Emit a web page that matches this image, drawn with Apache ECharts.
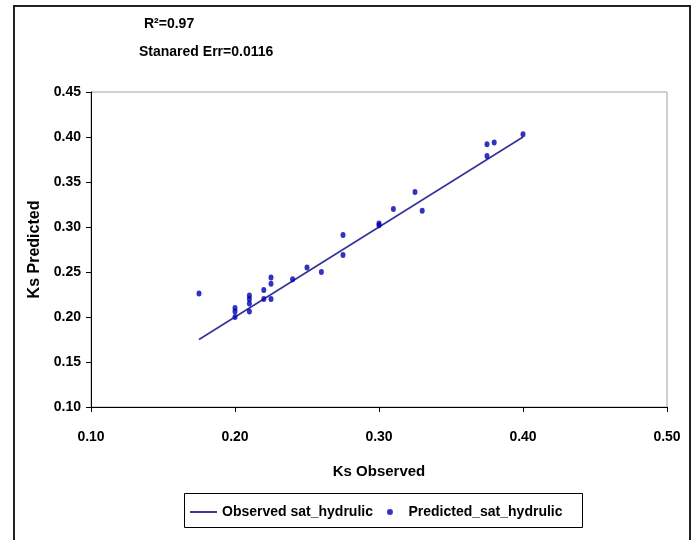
<!DOCTYPE html>
<html>
<head>
<meta charset="utf-8">
<title>Ks Observed vs Predicted</title>
<script src="https://cdn.jsdelivr.net/npm/echarts@6/dist/echarts.min.js"></script>
<style>
  html, body { margin: 0; padding: 0; background: #fff; }
  #chart { width: 693px; height: 540px; }
</style>
</head>
<body>
<div id="chart"></div>
<script>
// observed Ks (x) and predicted Ks (y)
const observed = [0.175, 0.20, 0.20, 0.20, 0.21, 0.21, 0.21, 0.21, 0.22, 0.22, 0.225, 0.225, 0.225,
  0.24, 0.25, 0.26, 0.275, 0.275, 0.30, 0.30, 0.31, 0.325, 0.33, 0.375, 0.375, 0.38, 0.40];
const predicted = [0.226, 0.210, 0.206, 0.200, 0.224, 0.220, 0.215, 0.206, 0.230, 0.220, 0.244, 0.237, 0.220,
  0.242, 0.255, 0.250, 0.291, 0.269, 0.304, 0.302, 0.320, 0.339, 0.318, 0.392, 0.379, 0.394, 0.403];
const xTicks = [0.10, 0.20, 0.30, 0.40, 0.50];
const yTicks = [0.10, 0.15, 0.20, 0.25, 0.30, 0.35, 0.40, 0.45];
const statLines = ['R\u00b2=0.97', 'Stanared Err=0.0116'];

const pointData = observed.map((v, i) => [v, predicted[i]]);
// 1:1 line through the observed values
const lineData = observed.slice().sort((a, b) => a - b).map(v => [v, v]);

const font = 'Liberation Sans, Arial, sans-serif';
const chart = echarts.init(document.getElementById('chart'));

chart.setOption({
  animation: false,
  backgroundColor: '#fff',
  textStyle: { fontFamily: font },
  title: [
    { text: statLines[0], left: 139, top: 12, textStyle: { fontSize: 14, fontWeight: 'bold', color: '#000', fontFamily: font } },
    { text: statLines[1], left: 134, top: 40, textStyle: { fontSize: 14, fontWeight: 'bold', color: '#000', fontFamily: font } }
  ],
  grid: {
    left: 91,
    right: 26,
    top: 92,
    bottom: 133,
    show: true,
    borderColor: '#a0a0a0',
    borderWidth: 1,
    backgroundColor: '#fff'
  },
  xAxis: {
    type: 'value',
    min: xTicks[0],
    max: xTicks[xTicks.length - 1],
    interval: 0.1,
    name: 'Ks Observed',
    nameLocation: 'middle',
    nameGap: 57,
    nameTextStyle: { fontSize: 15, fontWeight: 'bold', color: '#000' },
    axisLine: { onZero: false, lineStyle: { color: '#000', width: 1 } },
    axisTick: { show: true, length: 5, lineStyle: { color: '#000' } },
    axisLabel: {
      margin: 23,
      fontSize: 14,
      fontWeight: 'bold',
      color: '#000',
      formatter: v => v.toFixed(2)
    },
    splitLine: { show: false }
  },
  yAxis: {
    type: 'value',
    min: yTicks[0],
    max: yTicks[yTicks.length - 1],
    interval: 0.05,
    name: 'Ks Predicted',
    nameLocation: 'middle',
    nameGap: 40,
    nameRotate: 90,
    nameTextStyle: { fontSize: 16, fontWeight: 'bold', color: '#000' },
    axisLine: { show: true, onZero: false, lineStyle: { color: '#000', width: 1 } },
    axisTick: { show: true, length: 5, lineStyle: { color: '#000' } },
    axisLabel: {
      margin: 10,
      fontSize: 14,
      fontWeight: 'bold',
      color: '#000',
      formatter: v => v.toFixed(2)
    },
    splitLine: { show: false }
  },
  legend: {
    left: 190,
    top: 505,
    padding: 0,
    itemWidth: 27,
    itemHeight: 6,
    itemGap: 14,
    textStyle: { fontSize: 14, fontWeight: 'bold', color: '#000' },
    data: [
      // plain thin bar, no marker in the middle
      { name: 'Observed sat_hydrulic', icon: 'path://M0,0 L28,0 L28,2 L0,2 Z' },
      { name: 'Predicted_sat_hydrulic', icon: 'circle' }
    ]
  },
  graphic: [
    // outer frame, bottom edge is cut off in the picture
    { type: 'rect', shape: { x: 14, y: 6, width: 676, height: 600 }, style: { fill: 'none', stroke: '#222', lineWidth: 2 }, silent: true },
    // legend box
    { type: 'rect', shape: { x: 184.5, y: 493.5, width: 398, height: 34 }, style: { fill: 'none', stroke: '#000', lineWidth: 1 }, silent: true }
  ],
  series: [
    {
      name: 'Observed sat_hydrulic',
      type: 'line',
      data: lineData,
      symbol: 'none',
      lineStyle: { color: '#333399', width: 1.6 },
      itemStyle: { color: '#333399' },
      z: 2
    },
    {
      name: 'Predicted_sat_hydrulic',
      type: 'scatter',
      data: pointData,
      symbol: 'circle',
      symbolSize: [5, 6],
      itemStyle: { color: '#0000b4' },
      z: 3
    }
  ]
});
</script>
</body>
</html>
